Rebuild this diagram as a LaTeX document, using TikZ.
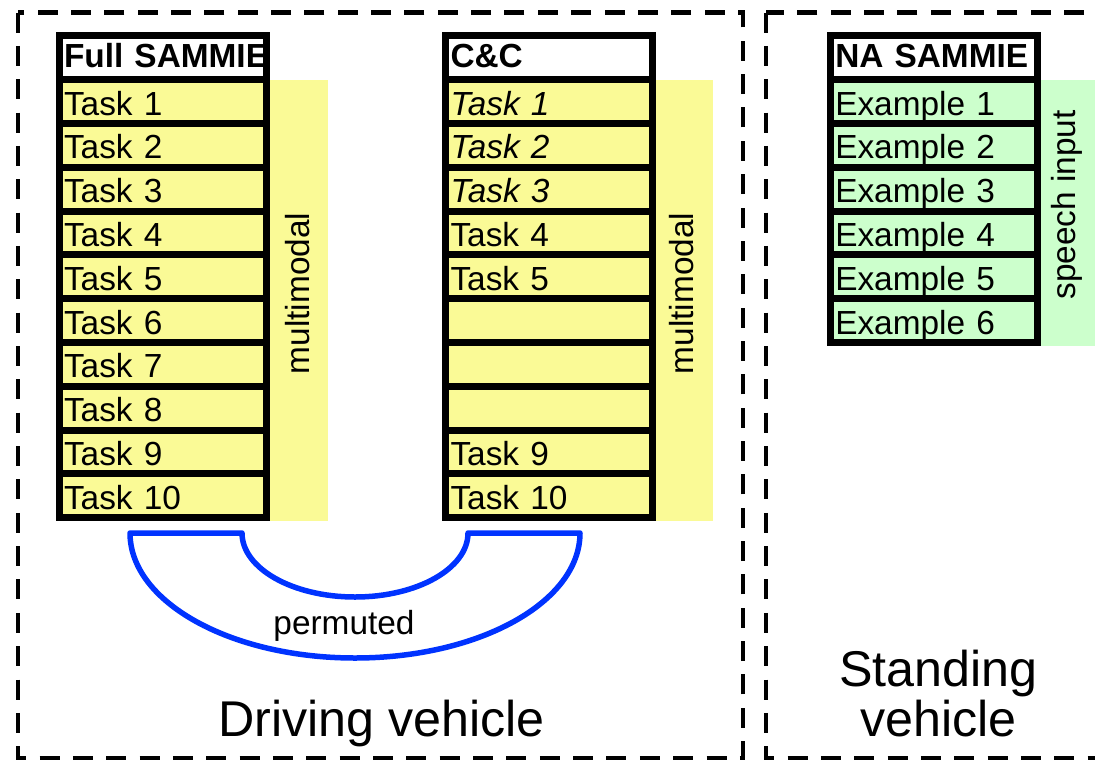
\documentclass[tikz,border=0pt]{standalone}
\usepackage{fontspec}
\setmainfont{Liberation Sans}
\usepackage{xcolor}
\usepackage{tikz}

\definecolor{taskyellow}{RGB}{250,250,150}
\definecolor{speechgreen}{RGB}{204,255,204}
\definecolor{permblue}{RGB}{0,51,255}

\newcommand{\cellfont}{\fontsize{19pt}{22pt}\selectfont}
\newcommand{\areafont}{\fontsize{28.6pt}{28.5pt}\selectfont}

\tikzstyle{area} = [draw, line width=0.09cm, dash pattern=on 0.4cm off 0.267cm]
\tikzstyle{cell} = [draw, line width=0.14cm, fill=taskyellow, minimum height=0.876cm,
text width=3.94cm, inner xsep=0.1cm, inner ysep=0pt, text height=0.68cm,
text depth=0.14cm, align=left, font=\cellfont]
\tikzstyle{head} = [cell, fill=white, text height=0.6cm, text depth=0.2cm, font=\cellfont\bfseries]
\tikzstyle{excell} = [cell, fill=speechgreen]
\tikzstyle{sidetext} = [rotate=90, font=\cellfont]
\tikzstyle{perm} = [draw=permblue, line width=0.11cm, line join=round]

\begin{document}
\begin{tikzpicture}[node distance=0.876cm]
\useasboundingbox (0,0) rectangle (21.9,-15.2);

% Vehicle areas
\draw [area] (0.36,-0.25) rectangle (14.86,-15.16);
\draw [area] (15.32,-0.25) rectangle (22.6,-15.16);

% Full SAMMIE
\node [head] (fullhead) at (3.25,-1.157) {\mbox{Full SAMMIE}};
\node [cell, below of=fullhead] (full1) {Task 1};
\node [cell, below of=full1] (full2) {Task 2};
\node [cell, below of=full2] (full3) {Task 3};
\node [cell, below of=full3] (full4) {Task 4};
\node [cell, below of=full4] (full5) {Task 5};
\node [cell, below of=full5] (full6) {Task 6};
\node [cell, below of=full6] (full7) {Task 7};
\node [cell, below of=full7] (full8) {Task 8};
\node [cell, below of=full8] (full9) {Task 9};
\node [cell, below of=full9] (full10) {Task 10};

% C&C
\node [head] (cchead) at (10.98,-1.157) {C\&C};
\node [cell, below of=cchead] (cc1) {\textit{Task 1}};
\node [cell, below of=cc1] (cc2) {\textit{Task 2}};
\node [cell, below of=cc2] (cc3) {\textit{Task 3}};
\node [cell, below of=cc3] (cc4) {Task 4};
\node [cell, below of=cc4] (cc5) {Task 5};
\node [cell, below of=cc5] (cc6) {};
\node [cell, below of=cc6] (cc7) {};
\node [cell, below of=cc7] (cc8) {};
\node [cell, below of=cc8] (cc9) {Task 9};
\node [cell, below of=cc9] (cc10) {Task 10};

% NA SAMMIE
\node [head] (nahead) at (18.675,-1.157) {\mbox{NA SAMMIE}};
\node [excell, below of=nahead] (na1) {Example 1};
\node [excell, below of=na1] (na2) {Example 2};
\node [excell, below of=na2] (na3) {Example 3};
\node [excell, below of=na3] (na4) {Example 4};
\node [excell, below of=na4] (na5) {Example 5};
\node [excell, below of=na5] (na6) {Example 6};

% Modality bands
\fill [taskyellow] ([yshift=0.07cm]fullhead.south east) rectangle ([xshift=1.16cm]full10.south east);
\fill [taskyellow] ([yshift=0.07cm]cchead.south east) rectangle ([xshift=1.13cm]cc10.south east);
\fill [speechgreen] ([yshift=0.07cm]nahead.south east) rectangle ([xshift=1.16cm]na6.south east);
\node [sidetext] (fullmm) at (5.95,-5.87) {multimodal};
\node [sidetext] (ccmm) at (13.64,-5.87) {multimodal};
\node [sidetext] (naspeech) at (21.34,-4.1) {speech input};

% Permutation link
\draw [perm] (2.6,-10.66) -- (4.84,-10.66)
  arc [start angle=180, end angle=360, x radius=2.26cm, y radius=1.28cm]
  -- (11.6,-10.66)
  arc [start angle=0, end angle=-180, x radius=4.5cm, y radius=2.5cm] -- cycle;
\node [font=\cellfont] (permuted) at (6.88,-12.52) {permuted};

% Area labels
\node [font=\areafont, anchor=base] (driving) at (7.63,-14.73) {Driving vehicle};
\node [font=\areafont, align=center] (standing) at (18.77,-13.87) {Standing\\vehicle};

\end{tikzpicture}
\end{document}
